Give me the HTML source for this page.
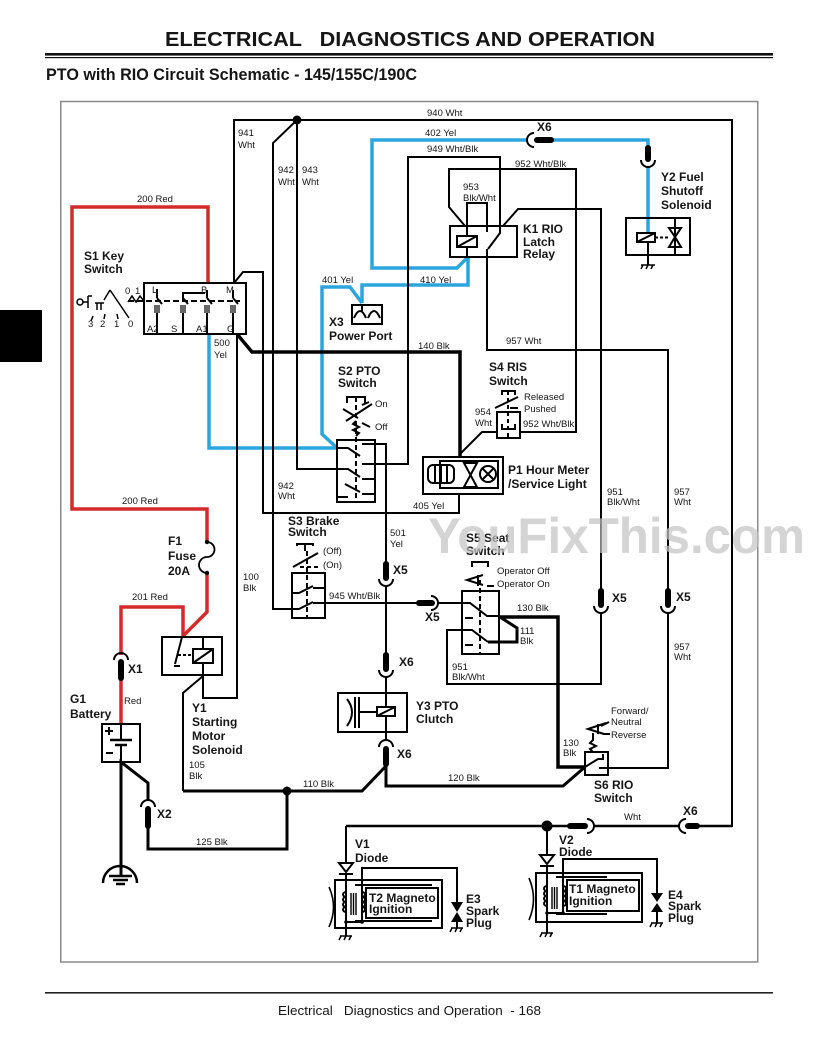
<!DOCTYPE html>
<html><head><meta charset="utf-8"><style>
html,body{margin:0;padding:0;background:#fff;}
svg{display:block;}
text{font-family:"Liberation Sans",Arial,sans-serif;fill:#151515;}
.s{font-size:9.5px;}
.b{font-size:12px;font-weight:bold;}
</style></head><body>
<svg width="817" height="1062" viewBox="0 0 817 1062" xmlns="http://www.w3.org/2000/svg">
<rect width="817" height="1062" fill="#fff"/>
<!-- header -->
<text x="165" y="46" font-size="20" font-weight="bold" textLength="490" lengthAdjust="spacingAndGlyphs" style="white-space:pre" xml:space="preserve">ELECTRICAL   DIAGNOSTICS AND OPERATION</text>
<rect x="45" y="53" width="728" height="2.6" fill="#111"/>
<rect x="45" y="57" width="728" height="1.2" fill="#111"/>
<text x="46" y="80" font-size="17" font-weight="bold" textLength="371" lengthAdjust="spacingAndGlyphs">PTO with RIO Circuit Schematic - 145/155C/190C</text>
<rect x="0" y="310" width="42" height="52" fill="#000"/>
<rect x="60.75" y="101.5" width="697" height="860.5" fill="none" stroke="#8a8a8a" stroke-width="1.5"/>
<!-- footer -->
<rect x="45" y="992" width="728" height="1.6" fill="#222"/>
<text x="278" y="1015" font-size="13" textLength="263" lengthAdjust="spacingAndGlyphs" style="white-space:pre" xml:space="preserve">Electrical   Diagnostics and Operation  - 168</text>

<!-- RED wires -->
<g fill="none" stroke="#d42a2a" stroke-width="3.5" stroke-linejoin="miter">
<path d="M208,283 V207 H72 V509 H207 V542"/>
<path d="M207,573 V612 L183,636"/>
<path d="M183,637 V607 H121 V655"/>
<path d="M121,680 V724"/>
</g>

<!-- BLUE wires -->
<g fill="none" stroke="#2ba6dd" stroke-width="3.5" stroke-linejoin="miter">
<path d="M209,334 V448 H337"/>
<path d="M337,448 L322,434 V287 H350 L362,303"/>
<path d="M362,303 V285 H468 V258"/>
<path d="M467,258 L457,268 H372 V140 H528"/>
<path d="M552,140 H648 V146"/>
<path d="M648,166 V233"/>
</g>

<!-- BLACK thin wires -->
<g fill="none" stroke="#000" stroke-width="2" stroke-linejoin="miter">
<path d="M234,283 V120 H732 V826 H698"/>
<path d="M594,826 H679"/>
<path d="M237,334 V698 H203 V676"/>
<path d="M234,283 L243,272 H263 V513 H459 V494"/>
<path d="M297,120 L273,143 V609 H292"/>
<path d="M297,120 V469 H337"/>
<path d="M459,455 L482,432 H497"/>
<path d="M520,432 H576 V169 H449 V207 L465,226"/>
<path d="M375,464 H408 V157 H500 V226"/>
<path d="M467,226 V203 H487 V232"/>
<path d="M500,226 V233 L488,249"/>
<path d="M487,249 V350 H668 V589"/>
<path d="M503,226 L518,209 H601 V589"/>
<path d="M601,613 V684 H447 V630 H462"/>
<path d="M668,613 V768 H608"/>
<path d="M375,444 H386 V562"/>
<path d="M386,586 V653"/>
<path d="M386,677 V707 M386,716 V740"/>
<path d="M325,603 H417"/>
<path d="M438,603 H462"/>
<path d="M203,676 L183,693 V791"/>
<path d="M346,826 V863"/>
<path d="M346,874 V936"/>
<path d="M362,922 V868 H457 V902"/>
<path d="M346,922 H362"/>
<path d="M547,826 V855"/>
<path d="M547,866 V933"/>
<path d="M563,913 V859 H657 V893"/>
<path d="M547,913 H563"/>
<path d="M648,242 V265"/>
<path d="M457,922 V928"/>
<path d="M657,912 V923"/>
</g>
<!-- BLACK thick wires -->
<g fill="none" stroke="#000" stroke-linejoin="miter">
<path d="M237,334 L252,352 H460 V457" stroke-width="3.5"/>
<path d="M386,766 L362,791 H183" stroke-width="3"/>
<path d="M386,766 V786 H563 L585,767" stroke-width="3"/>
<path d="M287,791 V849 H148 V828" stroke-width="3"/>
<path d="M148,801 V783 L121,762 V876" stroke-width="3"/>
<path d="M499,617 H558 V767 H585" stroke-width="3.5"/>
<path d="M500,617 L517,628 V642 H488" stroke-width="3"/>
<path d="M568,826 H346" stroke-width="2.5"/>
<path d="M594,826 H679 M698,826 H732" stroke-width="2.5"/>
</g>

<!-- fuse -->
<g fill="none" stroke="#000" stroke-width="1.8">
<path d="M207,542 A7.5,7.5 0 0 1 207,557 A7.5,7.5 0 0 0 207,573"/>
</g>
<circle cx="207" cy="542" r="2.2"/><circle cx="207" cy="573" r="2.2"/>

<!-- connectors: plugs -->
<g stroke="#000" stroke-width="6" stroke-linecap="round" fill="none">
<path d="M537,140 H551"/>
<path d="M648,148 V159"/>
<path d="M386,564 V578"/>
<path d="M386,655 V669"/>
<path d="M386,749 V764"/>
<path d="M121,662 V678"/>
<path d="M148,809 V826"/>
<path d="M419,603 H432"/>
<path d="M601,591 V605"/>
<path d="M668,591 V605"/>
<path d="M570,826 H585"/>
<path d="M688,826 H697"/>
</g>
<!-- connectors: receptacle arcs -->
<g stroke="#000" stroke-width="2" fill="none">
<path d="M534,133 A7,7 0 0 0 534,147"/>
<path d="M641,160 A7,7 0 0 0 655,160"/>
<path d="M379,579 A7,7 0 0 0 393,579"/>
<path d="M379,670 A7,7 0 0 0 393,670"/>
<path d="M379,747 A7,7 0 0 1 393,747"/>
<path d="M114,660 A7,7 0 0 1 128,660"/>
<path d="M141,807 A7,7 0 0 1 155,807"/>
<path d="M431,596 A7,7 0 0 1 431,610"/>
<path d="M594,606 A7,7 0 0 0 608,606"/>
<path d="M661,606 A7,7 0 0 0 675,606"/>
<path d="M587,819 A7,7 0 0 1 587,833"/>
<path d="M686,819 A7,7 0 0 0 686,833"/>
</g>

<!-- dots -->
<circle cx="297" cy="120" r="4.5"/>
<circle cx="287" cy="791" r="4.5"/>
<circle cx="547" cy="826" r="5.5"/>

<!-- S1 key switch -->
<g fill="none" stroke="#000" stroke-width="2">
<rect x="144" y="283" width="102" height="51" fill="#fff"/>
<path d="M128,301 H240" stroke-dasharray="6,3"/>
<path d="M157,289 V298 M157,313 V334 M183,313 V334 M207,290 V298 M207,313 V334 M233,290 V298 M233,313 V334"/>
<path d="M183,301 V293 H205"/>
<path d="M157,298 l5,6 M183,298 l5,6 M207,298 l5,6 M233,298 l5,6"/>
</g>
<g stroke="#000" stroke-width="1.2">
<path d="M155,305 V313 M157,305 V313 M159,305 V313 M181,305 V313 M183,305 V313 M185,305 V313 M205,305 V313 M207,305 V313 M209,305 V313 M231,305 V313 M233,305 V313 M235,305 V313"/>
</g>
<g fill="none" stroke="#000" stroke-width="1.5">
<circle cx="80" cy="302" r="3"/>
<path d="M83,302 H88 M88,296 V308 M88,296 H92"/>
<path d="M95,303 H104 M97,303 V310 M101,303 V310"/>
<path d="M110,290 L104,300 M110,290 L129,318"/>
<path d="M93,316 L91,321 M105,314 L104,319 M117,314 L118,319"/>
<path d="M128,302 L132,296 L136,302 L140,296 L144,301"/>
</g>
<text class="s" x="152" y="293">L</text><text class="s" x="201" y="293">B</text><text class="s" x="226" y="293">M</text>
<text class="s" x="147" y="332">A2</text><text class="s" x="171" y="332">S</text><text class="s" x="196" y="332">A1</text><text class="s" x="227" y="332">G</text>
<text class="s" x="125" y="294">0</text><text class="s" x="135" y="294">1</text>
<text class="s" x="88" y="327">3</text><text class="s" x="100" y="327">2</text><text class="s" x="114" y="327">1</text><text class="s" x="128" y="327">0</text>

<!-- X3 power port -->
<g fill="none" stroke="#000" stroke-width="2">
<rect x="352" y="305" width="30" height="19"/>
<path d="M354,318 Q360,304 366,318 M368,318 Q374,304 380,318 M362,305 V311"/>
</g>

<!-- K1 relay -->
<g fill="none" stroke="#000" stroke-width="2">
<rect x="450" y="226" width="67" height="31"/>
<rect x="457" y="236" width="20" height="11"/>
<path d="M457,247 L477,236 M467,226 V236 M467,247 V258"/>
</g>

<!-- Y2 fuel shutoff -->
<g fill="none" stroke="#000" stroke-width="2">
<rect x="626" y="218" width="64" height="37"/>
<rect x="637" y="233" width="18" height="9" fill="#fff"/>
<path d="M637,242 L655,233"/>
<path d="M675,218 V255"/>
<path d="M655,237.5 H669" stroke-dasharray="3,2"/>
<path d="M669,228 H681 L675,237 Z M669,247 H681 L675,237 Z"/>
<path d="M641,265 H655 M643,265 l-2,4 M648,265 l-2,4 M653,265 l-2,4" stroke-width="1.5"/>
</g>

<!-- S2 PTO switch -->
<g fill="none" stroke="#000" stroke-width="2">
<rect x="337" y="440" width="38" height="62"/>
<path d="M356,397 V502" stroke-dasharray="5,3"/>
<path d="M347,403 V397 H365 V403"/>
<path d="M362,405 L369,402"/>
<path d="M343,409 L358,418"/>
<path d="M346,421 L372,404"/>
<path d="M362,423 L370,427"/>
<path d="M356,421 l-3,3 l6,3 l-6,3 l6,3 l-3,3"/>
<path d="M337,448 H348 L360,456"/><path d="M362,444 H375"/>
<path d="M337,469 H348 L360,477"/><path d="M362,464 H375"/>
<path d="M345,484 L360,492"/><path d="M362,479 H375"/>
<path d="M337,497 H348"/><path d="M362,494 H375"/>
</g>

<!-- S3 brake switch -->
<g fill="none" stroke="#000" stroke-width="2">
<rect x="292" y="573" width="33" height="45"/>
<path d="M307,551 V618" stroke-dasharray="5,3"/>
<path d="M297,546 V544 H313 V546 M305,544 V551"/>
<path d="M293,567 L318,553"/>
<path d="M300,567 H318" stroke-dasharray="4,3"/>
<path d="M292,593 H299 L313,586"/><path d="M313,588 H325"/>
<path d="M292,609 H299 L313,602"/><path d="M313,603 H325"/>
</g>

<!-- S4 RIS switch -->
<g fill="none" stroke="#000" stroke-width="2">
<rect x="497" y="412" width="23" height="26"/>
<path d="M508,391 V438" stroke-dasharray="4,3"/>
<path d="M502,395 V391 H515 V395"/>
<path d="M495,408 L518,397"/>
<path d="M510,408 H518"/>
<path d="M502,424 V429 H515 V424"/>
</g>

<!-- P1 hour meter -->
<g fill="none" stroke="#000" stroke-width="2">
<rect x="423" y="457" width="80" height="37"/>
<rect x="440" y="461" width="58" height="27"/>
<rect x="428" y="465" width="26" height="18" rx="5"/>
<path d="M435,466 V482 M441,466 V482 M447,466 V482"/>
<path d="M464,463 H477 L464,487 H477 Z"/>
<circle cx="488" cy="474" r="8"/>
<path d="M482,468 L494,480 M494,468 L482,480"/>
</g>

<!-- S5 seat switch -->
<g fill="none" stroke="#000" stroke-width="2">
<rect x="462" y="591" width="37" height="63"/>
<path d="M480,580 V654" stroke-dasharray="5,3"/>
<path d="M472,567 V562 H488 V567"/>
<path d="M483,575 L467,580 L483,585"/>
<path d="M478,575 V586"/>
<path d="M487,586 H494"/>
<path d="M465,618 H473 M465,645 H473"/>
<path d="M462,603 H470 L487,616 H499"/>
<path d="M462,630 H472 L488,642"/>
</g>

<!-- S6 RIO switch -->
<g fill="none" stroke="#000" stroke-width="2">
<rect x="585" y="752" width="23" height="23"/>
<path d="M593,752 l-3,-3 l6,-3 l-6,-3 l3,-3 V733"/>
<path d="M606,723 L588,729 L604,734"/>
<path d="M598,724 V734"/>
<path d="M601,726 L609,722 M603,734 H610"/>
<path d="M585,767 L598,759 H603 V754"/>
<path d="M599,768 H608"/>
</g>

<!-- Y1 starting motor solenoid -->
<g fill="none" stroke="#000" stroke-width="2">
<rect x="162" y="637" width="60" height="38"/>
<path d="M182,637 L175,664 M174,666 h6"/>
<rect x="193" y="649" width="20" height="14"/>
<path d="M193,663 L213,649 M203,637 V649 M203,663 V676"/>
<path d="M178,655 H193" stroke-dasharray="3,2"/>
</g>

<!-- Y3 PTO clutch -->
<g fill="none" stroke="#000" stroke-width="2">
<rect x="338" y="693" width="69" height="39"/>
<path d="M347,699 Q357,712 347,726"/>
<path d="M355,697 V728 M359,697 V728"/>
<path d="M359,712 H377"/>
<rect x="377" y="707" width="18" height="9" fill="#fff"/>
<path d="M377,716 L395,707"/>
</g>

<!-- G1 battery -->
<g fill="none" stroke="#000" stroke-width="2">
<rect x="102" y="724" width="38" height="38"/>
<path d="M105,731 h8 M109,727 v8"/>
<path d="M106,753 h7"/>
<path d="M110,740 H132" stroke-width="2.5"/>
<path d="M115,745 H127" stroke-width="2.5"/>
<path d="M121,724 V740 M121,745 V762"/>
</g>
<!-- main ground -->
<g fill="none" stroke="#000" stroke-width="2.5">
<path d="M103,883 A17,17 0 0 1 137,883"/>
<path d="M109,876 H132 M113,880 H128 M116,884 H125"/>
</g>

<!-- V1 / T2 / E3 -->
<g fill="none" stroke="#000" stroke-width="2">
<path d="M339,863 H353 L346,872 Z" fill="#fff"/>
<path d="M339,874 H353"/>
<rect x="335" y="880" width="107" height="48"/>
<path d="M355,885 H432 M355,921 H432"/>
<rect x="366" y="888" width="72" height="30" fill="#fff"/>
<path d="M346,892 a3,2.5 0 0 0 0,5 a3,2.5 0 0 0 0,5 a3,2.5 0 0 0 0,5 a3,2.5 0 0 0 0,5"/>
<path d="M362,892 a3,2.5 0 0 1 0,5 a3,2.5 0 0 1 0,5 a3,2.5 0 0 1 0,5 a3,2.5 0 0 1 0,5"/>
<path d="M351,893 V915 M353.5,893 V915 M356,893 V915" stroke-width="1.4"/>
<path d="M329,887 Q338,907 329,927" stroke-width="1.6"/>
<path d="M340,936 H352 M341,936 l-2,4 M346,936 l-2,4 M351,936 l-2,4" stroke-width="1.5"/>
<path d="M451,928 H463 M452,928 l-2,4 M457,928 l-2,4 M462,928 l-2,4" stroke-width="1.5"/>
</g>
<path d="M451,902 H463 L457,912 Z M451,922 H463 L457,912 Z" fill="#000"/>

<!-- V2 / T1 / E4 -->
<g fill="none" stroke="#000" stroke-width="2">
<path d="M540,855 H554 L547,864 Z" fill="#fff"/>
<path d="M540,866 H554"/>
<rect x="536" y="873" width="106" height="49"/>
<path d="M556,877 H607 M556,914 H607"/>
<rect x="567" y="880" width="72" height="31" fill="#fff"/>
<path d="M547,886 a3,2.5 0 0 0 0,5 a3,2.5 0 0 0 0,5 a3,2.5 0 0 0 0,5 a3,2.5 0 0 0 0,5"/>
<path d="M563,886 a3,2.5 0 0 1 0,5 a3,2.5 0 0 1 0,5 a3,2.5 0 0 1 0,5 a3,2.5 0 0 1 0,5"/>
<path d="M552,887 V909 M554.5,887 V909 M557,887 V909" stroke-width="1.4"/>
<path d="M529,878 Q538,899 529,920" stroke-width="1.6"/>
<path d="M541,933 H553 M542,933 l-2,4 M547,933 l-2,4 M552,933 l-2,4" stroke-width="1.5"/>
<path d="M651,923 H663 M652,923 l-2,4 M657,923 l-2,4 M662,923 l-2,4" stroke-width="1.5"/>
</g>
<path d="M651,893 H663 L657,902 Z M651,912 H663 L657,903 Z" fill="#000"/>
<circle cx="346" cy="922" r="1.8"/><circle cx="362" cy="922" r="1.8"/>
<circle cx="547" cy="913" r="1.8"/><circle cx="563" cy="913" r="1.8"/>

<!-- small wire labels -->
<g class="s">
<text class="s" x="238" y="136">941</text><text class="s" x="238" y="148">Wht</text>
<text class="s" x="278" y="173">942</text><text class="s" x="278" y="185">Wht</text>
<text class="s" x="302" y="173">943</text><text class="s" x="302" y="185">Wht</text>
<text class="s" x="137" y="202">200 Red</text>
<text class="s" x="322" y="283">401 Yel</text>
<text class="s" x="214" y="346">500</text><text class="s" x="214" y="358">Yel</text>
<text class="s" x="427" y="116">940 Wht</text>
<text class="s" x="425" y="136">402 Yel</text>
<text class="s" x="427" y="152">949 Wht/Blk</text>
<text class="s" x="515" y="167">952 Wht/Blk</text>
<text class="s" x="463" y="190">953</text><text class="s" x="463" y="201">Blk/Wht</text>
<text class="s" x="420" y="283">410 Yel</text>
<text class="s" x="506" y="344">957 Wht</text>
<text class="s" x="418" y="349">140 Blk</text>
<text class="s" x="375" y="407">On</text>
<text class="s" x="375" y="430">Off</text>
<text class="s" x="278" y="489">942</text><text class="s" x="278" y="499">Wht</text>
<text class="s" x="413" y="509">405 Yel</text>
<text class="s" x="122" y="504">200 Red</text>
<text class="s" x="390" y="536">501</text><text class="s" x="390" y="547">Yel</text>
<text class="s" x="323" y="554">(Off)</text><text class="s" x="323" y="568">(On)</text>
<text class="s" x="243" y="580">100</text><text class="s" x="243" y="591">Blk</text>
<text class="s" x="329" y="599">945 Wht/Blk</text>
<text class="s" x="132" y="600">201 Red</text>
<text class="s" x="524" y="400">Released</text><text class="s" x="524" y="412">Pushed</text>
<text class="s" x="475" y="415">954</text><text class="s" x="475" y="426">Wht</text>
<text class="s" x="523" y="427">952 Wht/Blk</text>
<text class="s" x="607" y="495">951</text><text class="s" x="607" y="505">Blk/Wht</text>
<text class="s" x="674" y="495">957</text><text class="s" x="674" y="505">Wht</text>
<text class="s" x="497" y="574">Operator Off</text><text class="s" x="497" y="587">Operator On</text>
<text class="s" x="517" y="611">130 Blk</text>
<text class="s" x="520" y="634">111</text><text class="s" x="520" y="644">Blk</text>
<text class="s" x="452" y="670">951</text><text class="s" x="452" y="680">Blk/Wht</text>
<text class="s" x="674" y="650">957</text><text class="s" x="674" y="660">Wht</text>
<text class="s" x="611" y="714">Forward/</text><text class="s" x="611" y="725">Neutral</text><text class="s" x="611" y="738">Reverse</text>
<text class="s" x="563" y="746">130</text><text class="s" x="563" y="756">Blk</text>
<text class="s" x="448" y="781">120 Blk</text>
<text class="s" x="624" y="820">Wht</text>
<text class="s" x="124" y="704">Red</text>
<text class="s" x="189" y="768">105</text><text class="s" x="189" y="779">Blk</text>
<text class="s" x="303" y="787">110 Blk</text>
<text class="s" x="196" y="845">125 Blk</text>
</g>

<!-- bold component labels -->
<text class="b" x="84" y="260">S1 Key</text><text class="b" x="84" y="273">Switch</text>
<text class="b" x="329" y="326">X3</text><text class="b" x="329" y="340">Power Port</text>
<text class="b" x="523" y="233">K1 RIO</text><text class="b" x="523" y="246">Latch</text><text class="b" x="523" y="258">Relay</text>
<text class="b" x="661" y="181">Y2 Fuel</text><text class="b" x="661" y="195">Shutoff</text><text class="b" x="661" y="209">Solenoid</text>
<text class="b" x="537" y="131">X6</text>
<text class="b" x="338" y="375">S2 PTO</text><text class="b" x="338" y="387">Switch</text>
<text class="b" x="489" y="371">S4 RIS</text><text class="b" x="489" y="385">Switch</text>
<text class="b" x="508" y="474">P1 Hour Meter</text><text class="b" x="508" y="488">/Service Light</text>
<text class="b" x="288" y="525">S3 Brake</text><text class="b" x="288" y="536">Switch</text>
<text class="b" x="168" y="545">F1</text><text class="b" x="168" y="560">Fuse</text><text class="b" x="168" y="575">20A</text>
<text class="b" x="393" y="574">X5</text>
<text class="b" x="425" y="621">X5</text>
<text class="b" x="466" y="542">S5 Seat</text><text class="b" x="466" y="555">Switch</text>
<text class="b" x="612" y="602">X5</text><text class="b" x="676" y="601">X5</text>
<text class="b" x="128" y="673">X1</text>
<text class="b" x="70" y="703">G1</text><text class="b" x="70" y="718">Battery</text>
<text class="b" x="192" y="712">Y1</text><text class="b" x="192" y="726">Starting</text><text class="b" x="192" y="740">Motor</text><text class="b" x="192" y="754">Solenoid</text>
<text class="b" x="157" y="818">X2</text>
<text class="b" x="399" y="666">X6</text>
<text class="b" x="416" y="710">Y3 PTO</text><text class="b" x="416" y="723">Clutch</text>
<text class="b" x="397" y="758">X6</text>
<text class="b" x="594" y="789">S6 RIO</text><text class="b" x="594" y="802">Switch</text>
<text class="b" x="683" y="815">X6</text>
<text class="b" x="355" y="848">V1</text><text class="b" x="355" y="862">Diode</text>
<text class="b" x="559" y="844">V2</text><text class="b" x="559" y="856">Diode</text>
<text class="b" x="369" y="902">T2 Magneto</text><text class="b" x="369" y="913">Ignition</text>
<text class="b" x="569" y="893">T1 Magneto</text><text class="b" x="569" y="905">Ignition</text>
<text class="b" x="466" y="903">E3</text><text class="b" x="466" y="915">Spark</text><text class="b" x="466" y="927">Plug</text>
<text class="b" x="668" y="899">E4</text><text class="b" x="668" y="910">Spark</text><text class="b" x="668" y="922">Plug</text>

<!-- watermark -->
<text x="428" y="553" font-size="50" font-weight="bold" fill="#c4c4c4" fill-opacity="0.72" style="fill:#c4c4c4" textLength="377" lengthAdjust="spacingAndGlyphs">YouFixThis.com</text>
</svg>
</body></html>
